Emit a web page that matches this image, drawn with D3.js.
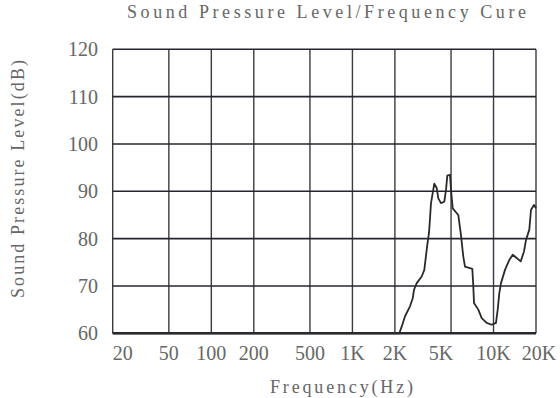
<!DOCTYPE html>
<html>
<head>
<meta charset="utf-8">
<script src="https://cdn.jsdelivr.net/npm/d3@7"></script>
<style>
  html, body { margin: 0; padding: 0; background: #fff; }
  svg { display: block; }
  text { font-family: "Liberation Serif", "DejaVu Serif", serif; fill: #666; }
</style>
</head>
<body>
<svg id="chart" width="560" height="398"></svg>
<script>
// 频率刻度
const freqTicks = [20, 50, 100, 200, 500, 1000, 2000, 5000, 10000, 20000];
const freqLabels = ["20", "50", "100", "200", "500", "1K", "2K", "5K", "10K", "20K"];
const dbTicks = [60, 70, 80, 90, 100, 110, 120];

// 曲线数据
const curveFreq = [20, 2150, 2234, 2359, 2559, 2675, 2732, 2855, 3097, 3232, 3306, 3393, 3489,
  3547, 3605, 3706, 3804, 3956, 4061, 4244, 4479, 4605, 4704, 4915, 4996, 5137, 5627, 5852,
  6107, 6278, 7075, 7190, 7273, 7801, 8246, 8946, 9706, 10412, 10705, 10991, 11299, 12062,
  12939, 13678, 14598, 15585, 16445, 16987, 17931, 18438, 19359, 20000];
const curveDb = [60, 60, 61.4, 63.6, 65.7, 67.4, 69.2, 70.6, 72.0, 73.4, 75.9, 78.7, 81.2,
  84.3, 87.5, 89.6, 91.6, 90.7, 88.5, 87.5, 87.8, 90.3, 93.3, 93.5, 90.3, 86.4, 85.0, 81.2,
  76.2, 74.1, 73.6, 69.9, 66.4, 65.0, 63.2, 62.2, 61.8, 62.2, 65.0, 68.5, 70.6, 73.4,
  75.5, 76.6, 75.9, 75.2, 77.3, 79.7, 81.9, 86.1, 87.1, 86.4];

const svg = d3.select("#chart");
const margin = { left: 112.7, right: 24, top: 49.3, bottom: 64.7 };
const W = 560, H = 398;

const x = d3.scaleLog().domain([20, 20000]).range([margin.left, W - margin.right]);
const y = d3.scaleLinear().domain([60, 120]).range([H - margin.bottom, margin.top]);

// 标题
svg.append("text")
  .attr("x", 127).attr("y", 18)
  .attr("font-size", 18)
  .attr("textLength", 399).attr("lengthAdjust", "spacing")
  .text("Sound Pressure Level/Frequency Cure");

// 网格
const grid = svg.append("g");
grid.selectAll("line.v")
  .data(freqTicks)
  .enter().append("line")
  .attr("x1", d => x(d)).attr("x2", d => x(d))
  .attr("y1", y(120)).attr("y2", y(60))
  .attr("stroke", "#3a3a44").attr("stroke-width", 1.4);

grid.selectAll("line.h")
  .data(dbTicks)
  .enter().append("line")
  .attr("x1", x(20)).attr("x2", x(20000))
  .attr("y1", d => y(d)).attr("y2", d => y(d))
  .attr("stroke", "#26262e")
  .attr("stroke-width", d => d === 60 ? 2.4 : 1.6);

// y轴刻度标签
svg.append("g").selectAll("text")
  .data(dbTicks)
  .enter().append("text")
  .attr("x", 98).attr("y", d => y(d) + 7)
  .attr("text-anchor", "end")
  .attr("font-size", 20)
  .text(d => d);

// x轴刻度标签
const nudge = { 20: 10, 5000: -10, 20000: 3 };
svg.append("g").selectAll("text")
  .data(freqTicks)
  .enter().append("text")
  .attr("x", d => x(d) + (nudge[d] || 0))
  .attr("y", 360)
  .attr("text-anchor", "middle")
  .attr("font-size", 20)
  .text((d, i) => freqLabels[i]);

// 轴标题
svg.append("text")
  .attr("x", 270).attr("y", 393)
  .attr("font-size", 18)
  .attr("textLength", 143).attr("lengthAdjust", "spacing")
  .text("Frequency(Hz)");

svg.append("text")
  .attr("transform", "translate(24,298) rotate(-90)")
  .attr("font-size", 18)
  .attr("textLength", 238).attr("lengthAdjust", "spacing")
  .text("Sound Pressure Level(dB)");

// 曲线
const line = d3.line()
  .x((d, i) => x(curveFreq[i]))
  .y(d => y(d));

svg.append("path")
  .datum(curveDb)
  .attr("fill", "none")
  .attr("stroke", "#2a2a2a")
  .attr("stroke-width", 1.8)
  .attr("stroke-linejoin", "round")
  .attr("d", line);
</script>
</body>
</html>
